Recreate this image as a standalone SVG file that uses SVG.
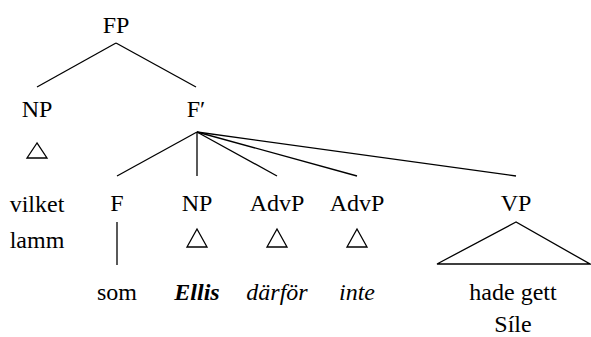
<svg xmlns="http://www.w3.org/2000/svg" width="591" height="337" viewBox="0 0 591 337">
<rect width="591" height="337" fill="#fff"/>
<g id="connectors" stroke="#000" stroke-width="1.3" fill="none">
<line x1="116" y1="43" x2="37" y2="87"/>
<line x1="116" y1="43" x2="196" y2="87"/>
<line x1="197" y1="132" x2="117" y2="176"/>
<line x1="197" y1="132" x2="197" y2="176"/>
<line x1="197" y1="132" x2="277" y2="176"/>
<line x1="197" y1="132" x2="357" y2="176"/>
<line x1="197" y1="132" x2="516" y2="176"/>
<line x1="117" y1="222" x2="117" y2="265"/>
</g>
<g id="nodes" font-family="'Liberation Serif', 'Times New Roman', 'DejaVu Serif', serif" font-size="24" text-anchor="middle" fill="#000">
<g id="FP"><text x="116" y="33">FP</text></g>
<g id="NP1"><text x="37" y="117">NP</text><polygon points="37,143 27,158 47,158" fill="none" stroke="#000" stroke-width="1.3"/></g>
<g id="Fbar"><text x="196" y="117">F&#8242;</text></g>
<g id="vilketlamm"><text x="37" y="212">vilket</text><text x="37" y="248">lamm</text></g>
<g id="F"><text x="117" y="211">F</text><text x="117" y="300">som</text></g>
<g id="NP2"><text x="197" y="211">NP</text><polygon points="197,229 187,247 207,247" fill="none" stroke="#000" stroke-width="1.3"/><text x="197" y="300" font-style="italic" font-weight="bold">Ellis</text></g>
<g id="AdvP1"><text x="277" y="211">AdvP</text><polygon points="277,229 267,247 287,247" fill="none" stroke="#000" stroke-width="1.3"/><text x="277" y="300" font-style="italic">d&#228;rf&#246;r</text></g>
<g id="AdvP2"><text x="357" y="211">AdvP</text><polygon points="357,229 347,247 367,247" fill="none" stroke="#000" stroke-width="1.3"/><text x="357" y="300" font-style="italic">inte</text></g>
<g id="VP"><text x="516" y="211">VP</text><polygon points="516,222 437,264 590,264" fill="none" stroke="#000" stroke-width="1.3"/><text x="513" y="300">hade gett</text><text x="513" y="332">S&#237;le</text></g>
</g>
</svg>
